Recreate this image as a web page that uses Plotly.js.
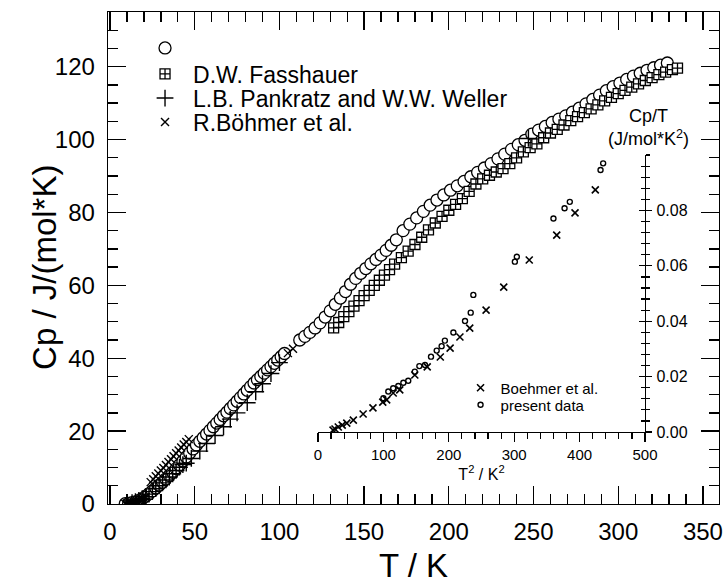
<!DOCTYPE html>
<html><head><meta charset="utf-8">
<script src="https://cdn.plot.ly/plotly-3.0.1.min.js"></script>
<style>body{margin:0;background:#fff}</style>
</head><body><div id="chart" style="width:726px;height:583px"></div>
<script>
// ---- main panel: present data (open circles) ----
const presT  = [9,11,13,15,17,19,21,23,25,27,29,31,33,35,37,39,41,43,45,47,49,51,53,55,57,59,61,63,65,67,69,71,73,75,77,79,81,83,85,87,89,91,93,95,97,99,101,103,
  112,115,118,121,124,127,130,133,136,139,142,145,148,151,154,157,160,163,166,169,173,177,181,185,189,193,197,201,205,209,213,217,221,225,229,233,237,241,245,249,253,257,261,265,269,273,277,281,285,289,293,297,301,305,309,313,317,321,325,329];
const presCp = [0.08,0.15,0.35,0.6,1.0,1.5,2.1,2.8,3.6,4.4,5.2,6.0,6.9,7.8,8.7,9.7,10.7,11.8,12.9,14.0,15.1,16.2,17.2,18.2,19.2,20.2,21.2,22.2,23.2,24.2,25.2,26.2,27.2,28.2,29.2,30.2,31.2,32.2,33.2,34.1,35.0,35.9,36.8,37.7,38.6,39.5,40.4,41.3,
  45.0,46.0,47.1,48.3,49.7,51.3,53.0,54.8,56.5,58.3,60.3,61.9,63.3,64.6,65.9,67.1,68.3,69.6,71.0,72.5,75.0,76.8,78.5,80.3,82.0,83.4,84.8,86.1,87.3,88.5,89.8,91.0,92.2,93.4,94.7,96.0,97.3,98.6,99.8,101.5,102.6,103.6,104.7,105.6,106.5,107.5,108.6,109.8,111.0,112.2,113.4,114.5,115.5,116.5,117.4,118.2,119.0,119.7,120.4,121.0];
// ---- D.W. Fasshauer (squares with cross) ----
const fassT  = [132,135,138,141,144,147,150,153,156,159,162,165,168,172,176,180,184,188,192,196,200,204,208,212,216,220,224,228,232,236,240,244,248,252,256,260,264,268,272,276,280,284,288,292,296,300,304,308,312,316,320,324,328,332,335];
const fassCp = [48.3,49.8,51.4,52.8,54.3,55.8,57.2,58.6,60.0,61.4,62.8,64.3,65.8,67.6,69.4,71.2,73.2,75.2,77.1,78.9,80.6,82.2,83.8,85.8,87.8,89.2,90.2,91.1,92.0,93.4,95.0,96.6,97.8,98.8,100.5,101.8,102.8,104.0,105.2,106.3,107.4,108.4,109.5,110.6,111.6,112.6,113.5,114.4,115.3,116.2,117.0,117.8,118.5,119.2,119.6];
// ---- L.B. Pankratz and W.W. Weller (+) ----
const pankT  = [13,15,17,19,21,23,25,27,29,31,33,35,37,39,41,43,45,48,53,57,62,67,71,75,81,86,90,95,100,247];
const pankCp = [0.4,0.65,1.0,1.5,2.0,2.7,3.4,4.2,5.0,5.8,6.6,7.4,8.3,9.2,10.1,10.8,11.2,12.5,14.5,16.6,18.8,21.2,23.3,25.0,27.8,30.8,33.0,35.8,38.8,100.3];
// ---- R. Böhmer et al. (x) ----
const boeT  = [9,10,11,12,13,14,15,16,17,18,19,20,21,24,25.5,27,28.5,30,31.5,33,34.5,36,37.5,39,40.5,42,43.5,45,46.5,105,108];
const boeCp = [0.1,0.13,0.18,0.25,0.33,0.45,0.58,0.75,0.95,1.15,1.4,1.65,1.95,6.0,6.8,7.6,8.4,9.2,9.9,10.7,11.5,12.3,13.1,13.9,14.7,15.5,16.3,17.0,17.8,41.4,42.6];
// ---- inset: Cp/T vs T^2 ----
const insBoeT2  = [23,26,31,37,44,54,69,84,99,105,115,125,148,167,187,202,217,232,257,284,323,365,393,424];
const insBoeCpT = [0.0007,0.0011,0.0018,0.0025,0.0032,0.0043,0.0065,0.0087,0.0108,0.0116,0.0141,0.0152,0.0206,0.0235,0.0271,0.0303,0.0343,0.0375,0.0440,0.0523,0.0621,0.0711,0.0791,0.0874];
const insPresT2  = [100,107.5,115,122.8,130.5,138,148,155,163.6,172.8,181.5,189,194,207,224.8,233.5,237.5,301,304,360,377,385,432,436];
const insPresCpT = [0.0122,0.0146,0.0158,0.0166,0.0178,0.0185,0.0218,0.0238,0.0242,0.0272,0.0294,0.031,0.033,0.0359,0.0401,0.0431,0.0495,0.0615,0.0633,0.0771,0.0808,0.0831,0.0946,0.097];
const xTicks = [0,50,100,150,200,250,300,350];
const yTicks = [0,20,40,60,80,100,120];
const insXTicks = [0,100,200,300,400,500];
const insYTicks = [0,0.02,0.04,0.06,0.08];
const insYText = ['0.00','0.02','0.04','0.06','0.08'];

const FONT = 'Liberation Sans, Arial, Helvetica, sans-serif';
const traces = [
  {x: presT, y: presCp, name: ' ', type: 'scatter', mode: 'markers', xaxis: 'x', yaxis: 'y', legend: 'legend',
   marker: {symbol: 'circle', size: 12, color: '#fff', line: {color: '#000', width: 1.3}}},
  {x: fassT, y: fassCp, name: 'D.W. Fasshauer', type: 'scatter', mode: 'markers', legend: 'legend3',
   marker: {symbol: 'square-cross', size: 10, color: '#fff', line: {color: '#000', width: 1.3}}},
  {x: pankT, y: pankCp, name: 'L.B. Pankratz and W.W. Weller', type: 'scatter', mode: 'markers', legend: 'legend4',
   marker: {symbol: 'cross-thin-open', size: 12, color: '#000', line: {color: '#000', width: 1.4}}},
  {x: boeT, y: boeCp, name: 'R.Böhmer et al.', type: 'scatter', mode: 'markers', legend: 'legend5',
   marker: {symbol: 'x-thin-open', size: 8, color: '#000', line: {color: '#000', width: 1.4}}},
  {x: insBoeT2, y: insBoeCpT, name: 'Boehmer et al.', type: 'scatter', mode: 'markers', xaxis: 'x2', yaxis: 'y2', legend: 'legend2',
   marker: {symbol: 'x-thin-open', size: 7, color: '#000', line: {color: '#000', width: 1.6}}},
  {x: insPresT2, y: insPresCpT, name: 'present data', type: 'scatter', mode: 'markers', xaxis: 'x2', yaxis: 'y2', legend: 'legend6',
   marker: {symbol: 'circle-open', size: 5, color: '#000', line: {color: '#000', width: 1.4}}},
  // empty helper traces so that the mirrored / crossing tick axes get drawn
  {x: [], y: [], xaxis: 'x3', yaxis: 'y', showlegend: false, type: 'scatter', mode: 'markers'},
  {x: [], y: [], xaxis: 'x', yaxis: 'y4', showlegend: false, type: 'scatter', mode: 'markers'},
  {x: [], y: [], xaxis: 'x2', yaxis: 'y3', showlegend: false, type: 'scatter', mode: 'markers'}
];

const mainTick = {ticks: 'inside', ticklen: 18, tickwidth: 1.3, tickcolor: '#000', showgrid: false, zeroline: false};
const legBase = {xanchor: 'left', yanchor: 'middle', bgcolor: 'rgba(0,0,0,0)', font: {size: 23, family: FONT}, itemwidth: 46};
const layout = {
  width: 726, height: 583,
  margin: {l: 108, r: 7, t: 12, b: 79},
  paper_bgcolor: '#fff', plot_bgcolor: 'rgba(0,0,0,0)',
  font: {family: FONT, color: '#000'},
  showlegend: true,
  xaxis: Object.assign({range: [-1.2, 359.5], tickvals: xTicks,
    minor: {dtick: 10, ticks: 'inside', ticklen: 10, tickwidth: 1.3, tickcolor: '#000'},
    showline: true, linecolor: '#000', linewidth: 1.3, mirror: true,
    tickfont: {size: 24, family: FONT}, ticklabelstandoff: 6}, mainTick),
  xaxis3: Object.assign({overlaying: 'x', side: 'top', anchor: 'y', range: [-1.2, 359.5], tickvals: xTicks, showticklabels: false,
    minor: {dtick: 10, ticks: 'inside', ticklen: 10, tickwidth: 1.3, tickcolor: '#000'}, showline: false}, mainTick),
  yaxis: Object.assign({range: [0, 135], tickvals: yTicks,
    minor: {dtick: 5, ticks: 'inside', ticklen: 10, tickwidth: 1.3, tickcolor: '#000'},
    showline: true, linecolor: '#000', linewidth: 1.3, mirror: true,
    tickfont: {size: 24, family: FONT}, ticklabelstandoff: 7}, mainTick),
  yaxis4: Object.assign({overlaying: 'y', side: 'right', anchor: 'x', range: [0, 135], tickvals: yTicks, showticklabels: false,
    minor: {dtick: 5, ticks: 'inside', ticklen: 10, tickwidth: 1.3, tickcolor: '#000'}, showline: false}, mainTick),
  xaxis2: {domain: [0.3437, 0.8789], anchor: 'y2', range: [0, 500], tickvals: insXTicks, ticks: 'outside', ticklen: 9, tickwidth: 1.2, tickcolor: '#000',
    minor: {dtick: 20, ticks: 'outside', ticklen: 6, tickwidth: 1.2, tickcolor: '#000'}, showline: true, linecolor: '#000', linewidth: 1.2,
    showgrid: false, zeroline: false, tickfont: {size: 15, family: FONT}, ticklabelstandoff: 0,
    title: {text: 'T<sup>2</sup> / K<sup>2</sup>', font: {size: 16, family: FONT}, standoff: 0}},
  yaxis2: {domain: [0.1463, 0.7093], anchor: 'x2', side: 'right', range: [0, 0.1], tickvals: insYTicks, ticktext: insYText,
    ticks: 'outside', ticklen: 6, tickwidth: 1.2, tickcolor: '#000', minor: {dtick: 0.004, ticks: 'outside', ticklen: 4, tickwidth: 1.2, tickcolor: '#000'},
    showline: true, linecolor: '#000', linewidth: 1.2, showgrid: false, zeroline: false, tickfont: {size: 16, family: FONT}, ticklabelstandoff: 1},
  yaxis3: {overlaying: 'y2', anchor: 'x2', side: 'right', range: [0, 0.1], tickvals: insYTicks, showticklabels: false,
    ticks: 'inside', ticklen: 6, tickwidth: 1.2, tickcolor: '#000', minor: {dtick: 0.004, ticks: 'inside', ticklen: 4, tickwidth: 1.2, tickcolor: '#000'},
    showline: false, showgrid: false, zeroline: false},
  legend:  Object.assign({x: 0.0475, y: 0.9268}, legBase),
  legend3: Object.assign({x: 0.0475, y: 0.874}, legBase),
  legend4: Object.assign({x: 0.0475, y: 0.825}, legBase),
  legend5: Object.assign({x: 0.0475, y: 0.7764}, legBase),
  legend2: {x: 0.577, y: 0.2358, xanchor: 'left', yanchor: 'middle', bgcolor: 'rgba(0,0,0,0)', font: {size: 15, family: FONT}, itemwidth: 30},
  legend6: {x: 0.577, y: 0.2012, xanchor: 'left', yanchor: 'middle', bgcolor: 'rgba(0,0,0,0)', font: {size: 15, family: FONT}, itemwidth: 30},
  annotations: [
    {xref: 'paper', yref: 'paper', x: 0.885, y: 0.7175, xanchor: 'center', yanchor: 'bottom', showarrow: false,
     text: 'Cp/T<br>(J/mol*K<sup>2</sup>)', font: {size: 18, family: FONT}, align: 'center'},
    {xref: 'paper', yref: 'paper', x: 0.5, y: -0.124, xanchor: 'center', yanchor: 'middle', showarrow: false,
     text: 'T / K', font: {size: 33, family: FONT}},
    {xref: 'paper', yref: 'paper', x: -0.103, y: 0.48, xanchor: 'center', yanchor: 'middle', showarrow: false, textangle: -90,
     text: 'Cp / J/(mol*K)', font: {size: 33, family: FONT}}
  ]
};
Plotly.newPlot('chart', traces, layout, {displayModeBar: false, staticPlot: true});
</script></body></html>
